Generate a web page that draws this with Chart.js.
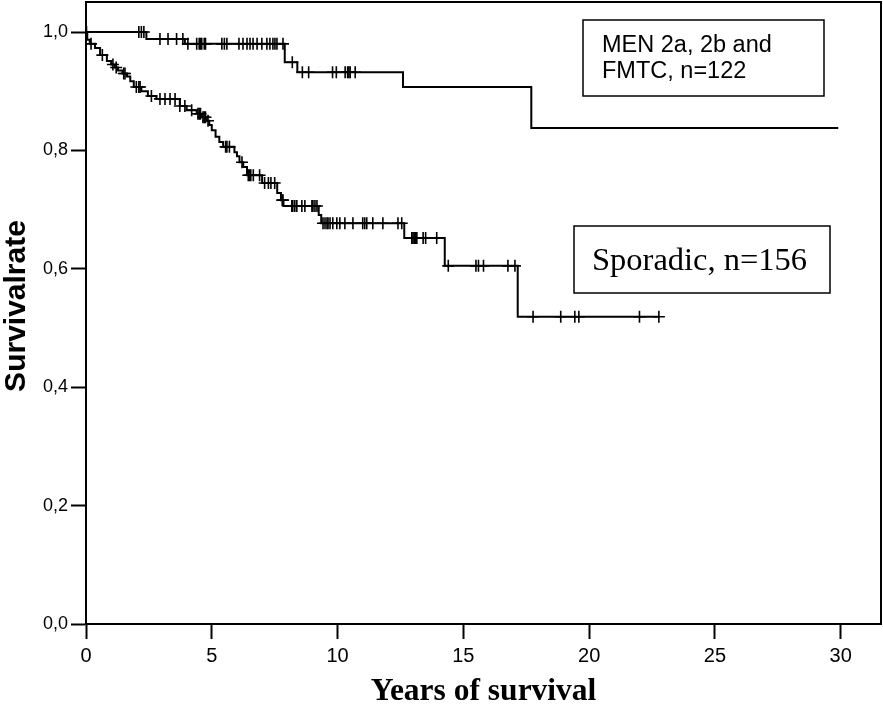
<!DOCTYPE html>
<html>
<head>
<meta charset="utf-8">
<script src="https://cdn.jsdelivr.net/npm/chart.js@4/dist/chart.umd.min.js"></script>
<style>
  html, body { margin: 0; padding: 0; background: #fff; }
  #wrap { width: 883px; height: 706px; position: relative; }
</style>
</head>
<body>
<div id="wrap"><canvas id="c" width="883" height="706"></canvas></div>
<script>
// ---------------- DATA ----------------
const xTicks = [0, 5, 10, 15, 20, 25, 30];
const yTicks = [0, 0.2, 0.4, 0.6, 0.8, 1.0];

// MEN 2a, 2b and FMTC (n=122): step times and survival after each step
const menTimes = [0, 2.4, 3.93, 7.9, 8.4, 12.6, 17.7, 29.9];
const menSurv  = [1.0, 0.988, 0.980, 0.949, 0.932, 0.907, 0.838, 0.838];
const menCensor = [2.1, 2.2, 2.3,
  2.94, 3.26, 3.6, 3.85,
  4.05, 4.4, 4.5, 4.55, 4.6, 4.7, 4.75, 5.4, 5.5, 5.6,
  6.08, 6.24, 6.4, 6.52, 6.64, 6.8, 6.99, 7.19, 7.31, 7.43, 7.51, 7.59, 7.83,
  8.2,
  8.6, 8.85, 9.8, 9.95, 10.3, 10.4, 10.45, 10.5, 10.7];

// Sporadic (n=156)
const sporTimes = [0, 0.05, 0.15, 0.36, 0.56, 0.83, 1.0, 1.15, 1.27, 1.45, 1.63, 1.76, 1.9,
  2.2, 2.46, 2.8, 3.73, 4.0, 4.4, 4.6, 4.8, 4.9, 5.0, 5.15, 5.3, 5.45, 5.9, 6.0, 6.1,
  6.25, 6.4, 7.0, 7.6, 7.75, 7.85, 9.25, 9.35, 12.65, 14.26, 17.16, 22.8];
const sporSurv = [1.0, 0.987, 0.980, 0.973, 0.961, 0.951, 0.945, 0.940, 0.935, 0.930, 0.925, 0.917, 0.907,
  0.900, 0.892, 0.887, 0.875, 0.868, 0.862, 0.856, 0.850, 0.843, 0.834, 0.823, 0.814, 0.806, 0.797, 0.790, 0.780,
  0.772, 0.758, 0.745, 0.728, 0.716, 0.706, 0.691, 0.677, 0.652, 0.605, 0.519, 0.519];
const sporCensor = [0.02, 0.2, 0.65, 1.07, 1.2, 1.5, 1.55, 2.0, 2.1, 2.15, 2.6,
  2.94, 3.14, 3.34, 3.54, 3.73, 3.93, 4.2,
  4.45, 4.5, 4.55, 4.65, 4.7, 4.75, 4.85, 5.55, 5.6, 5.7, 6.2,
  6.45, 6.5, 6.55, 6.65, 6.9, 7.1, 7.25, 7.35, 7.5, 7.8,
  7.83, 8.18, 8.22, 8.3, 8.38, 8.58, 8.7, 8.98, 9.02, 9.1, 9.18,
  9.42, 9.5, 9.58, 9.62, 9.7, 9.81, 9.97, 10.09, 10.29, 10.61, 11.0, 11.08, 11.16, 11.4, 11.8, 12.4, 12.55,
  12.95, 13.0, 13.05, 13.1, 13.15, 13.4, 13.5, 13.94,
  14.4, 15.5, 15.6, 15.8, 16.77, 17.05,
  17.77, 18.87, 19.43, 19.59, 22.0, 22.77];

const menLabel = ["MEN 2a, 2b and", "FMTC, n=122"];
const sporLabel = "Sporadic, n=156";
const xTitle = "Years of survival";
const yTitle = "Survivalrate";

// ---------------- HELPERS ----------------
function stepValue(times, surv, t) {
  let v = surv[0];
  for (let i = 0; i < times.length; i++) { if (times[i] <= t) v = surv[i]; else break; }
  return v;
}
const toPts = (ts, ss) => ts.map((t, i) => ({ x: t, y: ss[i] }));
const censorPts = (cs, ts, ss) => cs.map(t => ({ x: t, y: stepValue(ts, ss, t) }));

const lineStyle = { borderColor: '#000', borderWidth: 2, pointRadius: 0, stepped: true, fill: false, tension: 0 };
const censorStyle = { showLine: false, pointStyle: 'cross', pointRadius: 6, pointHoverRadius: 6,
  pointBorderWidth: 1.6, borderColor: '#000', backgroundColor: '#000', pointBorderColor: '#000' };

function noPad(s) { s.paddingTop = 0; s.paddingBottom = 0; s.paddingLeft = 0; s.paddingRight = 0; }

const overlay = {
  id: 'overlay',
  afterDraw(chart) {
    const ctx = chart.ctx, a = chart.chartArea;
    ctx.save();
    // frame top & right
    ctx.strokeStyle = '#000'; ctx.lineWidth = 2;
    ctx.beginPath();
    ctx.moveTo(a.left, a.top); ctx.lineTo(a.right, a.top); ctx.lineTo(a.right, a.bottom);
    ctx.stroke();
    // MEN box
    ctx.lineWidth = 1.5;
    ctx.strokeRect(583, 20, 241, 76);
    ctx.fillStyle = '#000';
    ctx.font = '23.5px "Liberation Sans", Arial, sans-serif';
    ctx.textAlign = 'left'; ctx.textBaseline = 'alphabetic';
    ctx.fillText(menLabel[0], 602, 52);
    ctx.fillText(menLabel[1], 602, 78);
    // Sporadic box
    ctx.strokeRect(574, 226, 256, 67);
    ctx.font = '32.5px "Liberation Serif", "Times New Roman", serif';
    ctx.fillText(sporLabel, 592, 270);
    // axis titles
    ctx.font = 'bold 31.5px "Liberation Serif", "Times New Roman", serif';
    ctx.textAlign = 'center';
    ctx.fillText(xTitle, (a.left + a.right) / 2, 700);
    ctx.save();
    ctx.translate(25, 306);
    ctx.rotate(-Math.PI / 2);
    ctx.font = 'bold 30px "Liberation Sans", Arial, sans-serif';
    ctx.fillText(yTitle, 0, 0);
    ctx.restore();
    ctx.restore();
  }
};

new Chart(document.getElementById('c'), {
  type: 'line',
  data: {
    datasets: [
      Object.assign({ label: 'MEN', data: toPts(menTimes, menSurv) }, lineStyle),
      Object.assign({ label: 'MEN censored', data: censorPts(menCensor, menTimes, menSurv) }, censorStyle),
      Object.assign({ label: 'Sporadic', data: toPts(sporTimes, sporSurv) }, lineStyle),
      Object.assign({ label: 'Sporadic censored', data: censorPts(sporCensor, sporTimes, sporSurv) }, censorStyle)
    ]
  },
  options: {
    responsive: false,
    animation: false,
    events: [],
    layout: { autoPadding: false, padding: { top: 2, right: 2, left: 0, bottom: 0 } },
    plugins: { legend: { display: false }, tooltip: { enabled: false } },
    scales: {
      x: {
        type: 'linear', min: 0, max: 31.6,
        afterBuildTicks: s => { s.ticks = xTicks.map(v => ({ value: v })); },
        afterFit: s => { s.height = 82; noPad(s); },
        grid: { drawOnChartArea: false, drawTicks: true, tickLength: 15, tickColor: '#000', tickWidth: 2 },
        border: { color: '#000', width: 2 },
        ticks: { color: '#000', padding: 5, maxRotation: 0, autoSkip: false,
          font: { family: '"Liberation Sans", Arial, sans-serif', size: 20 },
          callback: v => String(v) }
      },
      y: {
        type: 'linear', min: 0, max: 1.0507,
        afterBuildTicks: s => { s.ticks = yTicks.map(v => ({ value: v })); },
        afterFit: s => { s.width = 86; noPad(s); },
        grid: { drawOnChartArea: false, drawTicks: true, tickLength: 15, tickColor: '#000', tickWidth: 2 },
        border: { color: '#000', width: 2 },
        ticks: { color: '#000', padding: 3, autoSkip: false,
          font: { family: '"Liberation Sans", Arial, sans-serif', size: 18 },
          callback: v => v.toFixed(1).replace('.', ',') }
      }
    }
  },
  plugins: [overlay]
});
</script>
</body>
</html>
